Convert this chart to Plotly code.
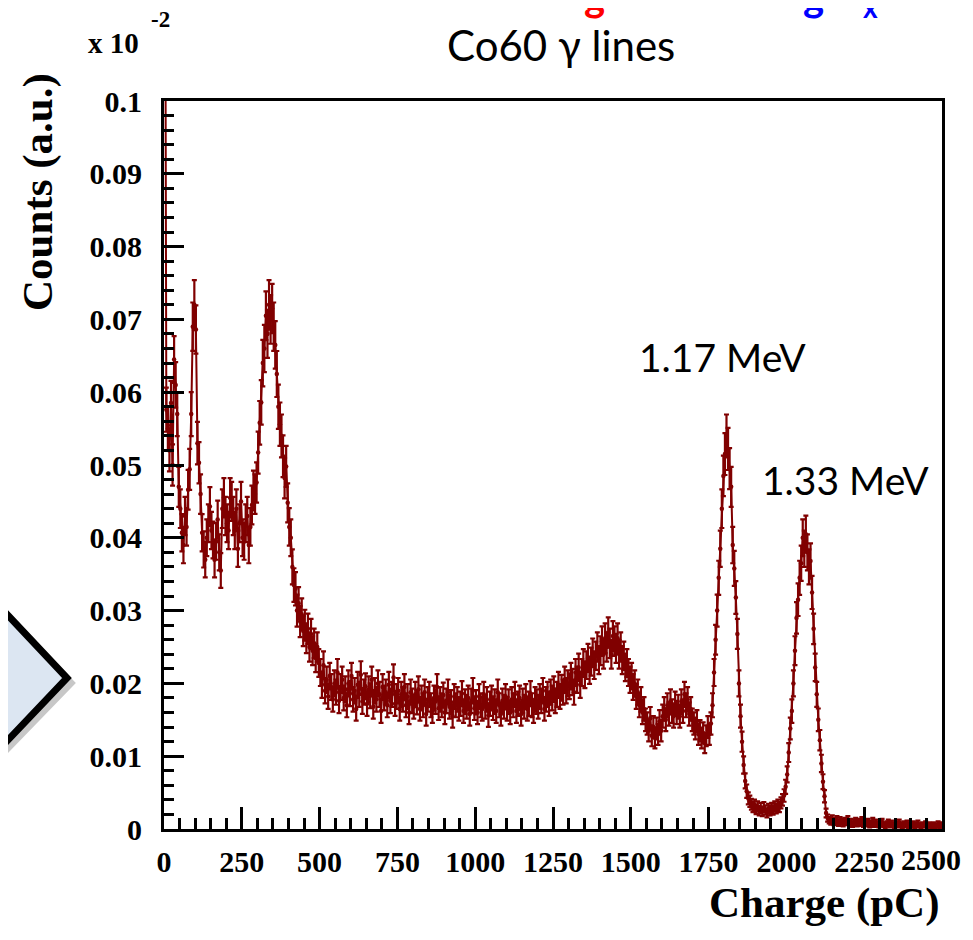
import numpy as np
import plotly.graph_objects as go

# ---------------- data (values as shown on the axis, units of 1e-2 a.u.) ----------------
bin_width = 5.0          # pC per bin
charge_min = 0.0
charge_max = 2500.0

counts_0_500 = [
    0.1500, 0.0576, 0.0550, 0.0520, 0.0585, 0.0500, 0.0645, 0.0610, 0.0570, 0.0470,
    0.0440, 0.0407, 0.0390, 0.0430, 0.0415, 0.0466, 0.0494, 0.0570, 0.0690, 0.0720,
    0.0686, 0.0530, 0.0503, 0.0460, 0.0407, 0.0384, 0.0370, 0.0400, 0.0420, 0.0443,
    0.0410, 0.0397, 0.0370, 0.0395, 0.0425, 0.0380, 0.0355, 0.0440, 0.0455, 0.0430,
    0.0420, 0.0410, 0.0455, 0.0450, 0.0430, 0.0410, 0.0440, 0.0385, 0.0420, 0.0450,
    0.0400, 0.0395, 0.0420, 0.0430, 0.0390, 0.0415, 0.0445, 0.0465, 0.0460, 0.0476,
    0.0517, 0.0558, 0.0586, 0.0640, 0.0660, 0.0705, 0.0680, 0.0720, 0.0700, 0.0715,
    0.0690, 0.0665, 0.0625, 0.0580, 0.0556, 0.0540, 0.0512, 0.0482, 0.0498, 0.0448,
    0.0415, 0.0400, 0.0360, 0.0335, 0.0330, 0.0300, 0.0310, 0.0285, 0.0295, 0.0272,
    0.0280, 0.0262, 0.0275, 0.0250, 0.0268, 0.0245, 0.0255, 0.0235, 0.0250, 0.0228,
]

counts_500_1300 = [
    0.0215, 0.0198, 0.0225, 0.0190, 0.0205, 0.0182, 0.0210, 0.0195, 0.0178, 0.0200,
    0.0188, 0.0215, 0.0176, 0.0195, 0.0205, 0.0180, 0.0192, 0.0170, 0.0200, 0.0186,
    0.0210, 0.0178, 0.0190, 0.0165, 0.0198, 0.0185, 0.0212, 0.0175, 0.0188, 0.0196,
    0.0172, 0.0192, 0.0183, 0.0205, 0.0168, 0.0190, 0.0178, 0.0200, 0.0185, 0.0162,
    0.0195, 0.0180, 0.0188, 0.0170, 0.0198, 0.0176, 0.0185, 0.0208, 0.0172, 0.0182,
    0.0190, 0.0165, 0.0185, 0.0178, 0.0195, 0.0170, 0.0182, 0.0160, 0.0188, 0.0176,
    0.0168, 0.0185, 0.0174, 0.0192, 0.0165, 0.0180, 0.0170, 0.0188, 0.0158, 0.0178,
    0.0185, 0.0170, 0.0162, 0.0180, 0.0175, 0.0195, 0.0166, 0.0178, 0.0170, 0.0184,
    0.0160, 0.0176, 0.0188, 0.0168, 0.0174, 0.0155, 0.0182, 0.0170, 0.0178, 0.0165,
    0.0172, 0.0186, 0.0162, 0.0175, 0.0168, 0.0180, 0.0158, 0.0176, 0.0190, 0.0166,
    0.0174, 0.0160, 0.0182, 0.0170, 0.0165, 0.0185, 0.0168, 0.0178, 0.0156, 0.0172,
    0.0180, 0.0166, 0.0175, 0.0162, 0.0188, 0.0170, 0.0158, 0.0176, 0.0168, 0.0182,
    0.0165, 0.0175, 0.0160, 0.0178, 0.0170, 0.0185, 0.0162, 0.0172, 0.0180, 0.0158,
    0.0176, 0.0168, 0.0182, 0.0165, 0.0172, 0.0186, 0.0170, 0.0162, 0.0178, 0.0175,
    0.0168, 0.0182, 0.0176, 0.0190, 0.0165, 0.0178, 0.0185, 0.0172, 0.0188, 0.0180,
    0.0192, 0.0176, 0.0185, 0.0198, 0.0182, 0.0194, 0.0188, 0.0205, 0.0190, 0.0200,
]

counts_1300_1750 = [
    0.0196, 0.0210, 0.0202, 0.0188, 0.0215, 0.0205, 0.0222, 0.0198, 0.0215, 0.0228,
    0.0212, 0.0225, 0.0235, 0.0218, 0.0230, 0.0242, 0.0225, 0.0238, 0.0250, 0.0232,
    0.0245, 0.0258, 0.0240, 0.0262, 0.0250, 0.0270, 0.0255, 0.0240, 0.0265, 0.0258,
    0.0248, 0.0262, 0.0240, 0.0250, 0.0232, 0.0238, 0.0222, 0.0228, 0.0215, 0.0205,
    0.0210, 0.0195, 0.0200, 0.0182, 0.0188, 0.0170, 0.0178, 0.0160, 0.0165, 0.0150,
    0.0145, 0.0135, 0.0152, 0.0128, 0.0140, 0.0125, 0.0138, 0.0130, 0.0148, 0.0135,
    0.0155, 0.0165, 0.0150, 0.0170, 0.0158, 0.0175, 0.0162, 0.0155, 0.0172, 0.0160,
    0.0168, 0.0155, 0.0175, 0.0162, 0.0185, 0.0170, 0.0178, 0.0158, 0.0165, 0.0150,
    0.0145, 0.0138, 0.0148, 0.0130, 0.0135, 0.0125, 0.0132, 0.0118, 0.0128, 0.0140,
]

counts_1750_2000 = [
    0.0130, 0.0145, 0.0170, 0.0215, 0.0260, 0.0300, 0.0345, 0.0385, 0.0440, 0.0485,
    0.0515, 0.0540, 0.0522, 0.0495, 0.0470, 0.0390, 0.0358, 0.0318, 0.0268, 0.0200,
    0.0155, 0.0120, 0.0088, 0.0066, 0.0052, 0.0042, 0.0038, 0.0034, 0.0030, 0.0033,
    0.0027, 0.0031, 0.0025, 0.0029, 0.0024, 0.0030, 0.0026, 0.0022, 0.0028, 0.0025,
    0.0029, 0.0026, 0.0031, 0.0028, 0.0033, 0.0030, 0.0036, 0.0040, 0.0046, 0.0058,
]

counts_2000_2500 = [
    0.0075, 0.0105, 0.0138, 0.0162, 0.0200, 0.0245, 0.0290, 0.0315, 0.0345, 0.0365,
    0.0400, 0.0385, 0.0405, 0.0380, 0.0360, 0.0368, 0.0325, 0.0275, 0.0222, 0.0185,
    0.0150, 0.0122, 0.0090, 0.0065, 0.0045, 0.0022, 0.0015,
    0.0012, 0.0010, 0.0014, 0.0009, 0.0011, 0.0013, 0.0008, 0.0012, 0.0010, 0.0007,
    0.0011, 0.0009, 0.0013, 0.0008, 0.0010, 0.0006, 0.0009, 0.0011, 0.0007, 0.0010,
    0.0008, 0.0012, 0.0006, 0.0009, 0.0007, 0.0010, 0.0005, 0.0008, 0.0011, 0.0006,
    0.0009, 0.0007, 0.0005, 0.0008, 0.0010, 0.0006, 0.0004, 0.0007, 0.0009, 0.0005,
    0.0008, 0.0006, 0.0004, 0.0007, 0.0005, 0.0009, 0.0006, 0.0004, 0.0007, 0.0005,
    0.0008, 0.0004, 0.0006, 0.0005, 0.0007, 0.0004, 0.0006, 0.0008, 0.0005, 0.0004,
    0.0006, 0.0005, 0.0007, 0.0004, 0.0006, 0.0005, 0.0003, 0.0006, 0.0004, 0.0005,
    0.0007, 0.0004, 0.0006,
]

x_tick_vals = [0, 250, 500, 750, 1000, 1250, 1500, 1750, 2000, 2250, 2500]
x_tick_text = ["0", "250", "500", "750", "1000", "1250", "1500", "1750", "2000", "2250", "2500"]
y_tick_vals = [0, 0.01, 0.02, 0.03, 0.04, 0.05, 0.06, 0.07, 0.08, 0.09, 0.1]
y_tick_text = ["0", "0.01", "0.02", "0.03", "0.04", "0.05", "0.06", "0.07", "0.08", "0.09", "0.1"]

title_text = "Co60 \u03b3 lines"
peak_labels = ["1.17 MeV", "1.33 MeV"]

counts = np.array(counts_0_500 + counts_500_1300 + counts_1300_1750
                  + counts_1750_2000 + counts_2000_2500)
charge = charge_min + bin_width * (np.arange(len(counts)) + 0.5)
# Poisson-like statistical errors of the histogram
errors = np.sqrt(counts * 1.6e-4)

# ---------------- figure ----------------
# The page body keeps the browser's 8 px margin, so the figure is made 16 px
# smaller than the window and everything is laid out in page pixels.
OFF = 8
PAGE_W, PAGE_H = 973, 940
W, H = PAGE_W - 2 * OFF, PAGE_H - 2 * OFF
PLOT_L, PLOT_R, PLOT_T, PLOT_B = 164, 942, 101, 829   # page pixels of the frame
L, T = PLOT_L - OFF, PLOT_T - OFF
R, B = W - (PLOT_R - OFF), H - (PLOT_B - OFF)
PW, PH = PLOT_R - PLOT_L, PLOT_B - PLOT_T

def px(xp):
    return (xp - PLOT_L) / PW

def py(yp):
    return (PLOT_B - yp) / PH

DARKRED = "#800000"
SERIF = "Liberation Serif, Times New Roman, serif"
SANS = "Lato, Open Sans, sans-serif"
TICK_FONT = dict(family=SERIF, size=30, color="black", weight="bold")

fig = go.Figure()
fig.add_trace(go.Scatter(
    x=charge, y=counts, mode="lines+markers",
    line=dict(color=DARKRED, width=2),
    marker=dict(color=DARKRED, size=4.5, symbol="circle"),
    error_y=dict(type="data", array=errors, color=DARKRED, thickness=2.2, width=2.5),
    showlegend=False, hoverinfo="x+y",
))

axis_common = dict(
    showline=True, linecolor="black", linewidth=3, mirror=True,
    ticks="inside", tickcolor="black", tickwidth=2.5,
    showgrid=False, zeroline=False,
    tickfont=TICK_FONT,
)

# the last x label sits at the window edge; it is drawn as an annotation kept
# inside the page so it does not widen the page
fig.update_xaxes(
    range=[charge_min, charge_max], tickmode="array",
    tickvals=x_tick_vals, ticktext=x_tick_text[:-1] + [""], ticklen=22,
    ticklabelstandoff=4,
    minor=dict(ticks="inside", dtick=50, ticklen=11, tickwidth=2.5, tickcolor="black", showgrid=False),
    **axis_common,
)
fig.update_yaxes(
    range=[0, 0.1], tickmode="array",
    tickvals=y_tick_vals, ticktext=y_tick_text, ticklen=20,
    ticklabelstandoff=13,
    minor=dict(ticks="inside", dtick=0.002, ticklen=10, tickwidth=2.5, tickcolor="black", showgrid=False),
    **axis_common,
)

annotations = [
    dict(x=px(963), y=py(859), text=x_tick_text[-1], xanchor="right", font=TICK_FONT),
    dict(x=px(561), y=py(45), text=title_text, font=dict(family=SANS, size=42, color="black")),
    dict(x=px(722), y=py(357), text=peak_labels[0], font=dict(family=SANS, size=39, color="black")),
    dict(x=px(845), y=py(480), text=peak_labels[1], font=dict(family=SANS, size=39, color="black")),
    dict(x=px(113), y=py(43), text="x 10", font=dict(family=SERIF, size=29, color="black", weight="bold")),
    dict(x=px(160), y=py(20), text="-2", font=dict(family=SERIF, size=23, color="black", weight="bold")),
    dict(x=px(38), y=py(192), text="Counts (a.u.)", textangle=-90,
         font=dict(family=SERIF, size=43, color="black", weight="bold")),
    dict(x=px(942), y=py(903), text="Charge (pC)", xanchor="right",
         font=dict(family=SERIF, size=43, color="black", weight="bold")),
    # cut-off slide heading fragments at the very top
    dict(x=px(594), y=py(-4), text="g", font=dict(family=SANS, size=40, color="red", weight="bold")),
    dict(x=px(813), y=py(-4), text="g", font=dict(family=SANS, size=40, color="blue", weight="bold")),
    dict(x=px(870), y=py(7), text="x", font=dict(family=SANS, size=28, color="blue", weight="bold")),
]
for a in annotations:
    a.setdefault("xref", "paper")
    a.setdefault("yref", "paper")
    a.setdefault("showarrow", False)
    a.setdefault("xanchor", "center")
    a.setdefault("yanchor", "middle")

# light-blue chevron arrow from the slide, on the left
chevron = (f"M {px(-30)},{py(575)} L {px(67)},{py(678)} L {px(-30)},{py(780)} Z")
shadow = (f"M {px(-28)},{py(580)} L {px(71)},{py(683)} L {px(-28)},{py(785)} Z")
shapes = [
    dict(type="path", path=shadow, xref="paper", yref="paper",
         line=dict(color="rgba(0,0,0,0.22)", width=7), fillcolor="rgba(0,0,0,0)", layer="below"),
    dict(type="path", path=chevron, xref="paper", yref="paper",
         line=dict(color="black", width=7), fillcolor="#dce6f2", layer="above"),
]

fig.update_layout(
    width=W, height=H,
    margin=dict(l=L, r=R, t=T, b=B, pad=0),
    paper_bgcolor="white", plot_bgcolor="white",
    annotations=annotations, shapes=shapes,
    showlegend=False,
)

fig.write_html("out.html", config={"displayModeBar": False})
